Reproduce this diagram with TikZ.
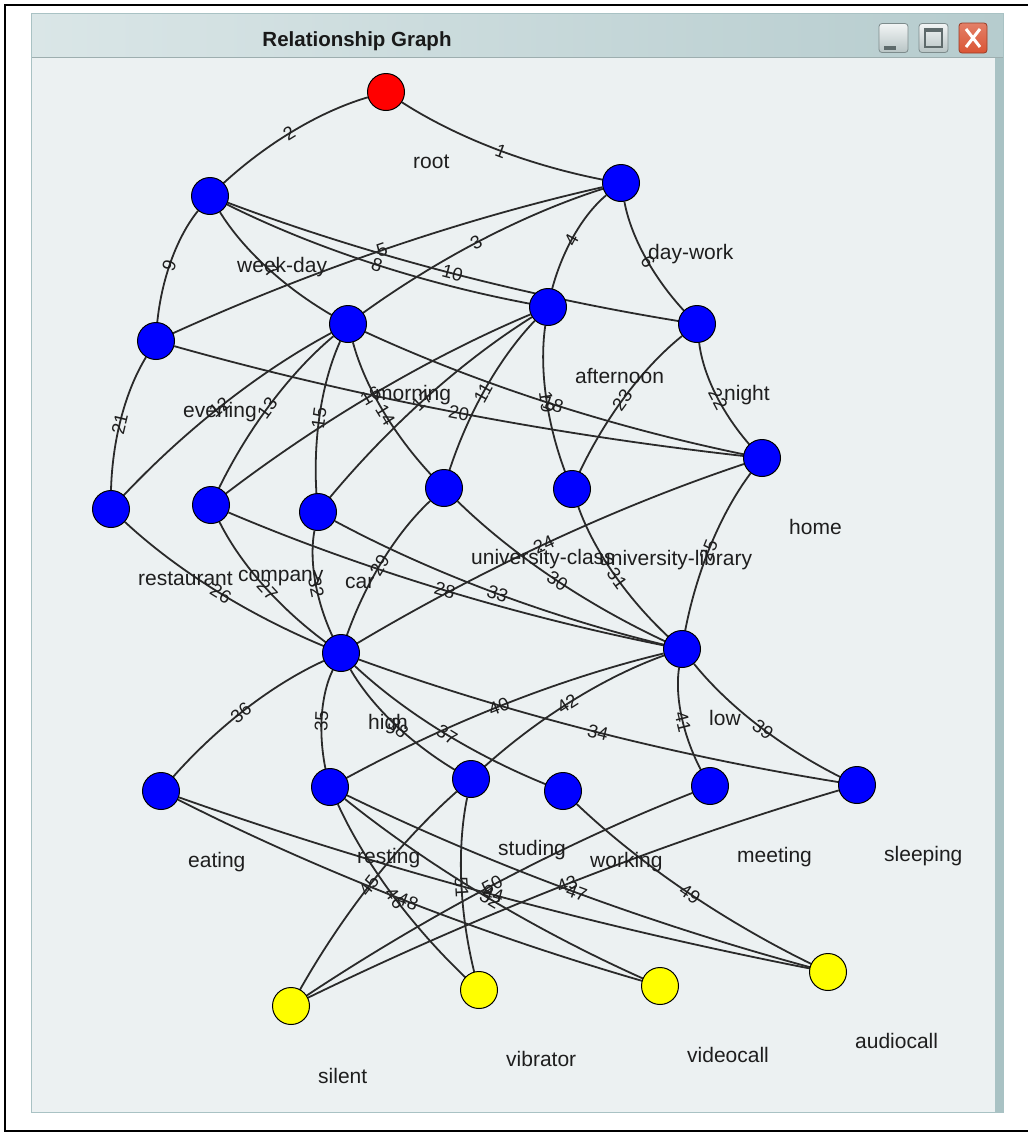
\documentclass[tikz,border=0pt]{standalone}
\usepackage{fontspec}
\setmainfont{Liberation Sans}
\usetikzlibrary{calc,backgrounds}
\definecolor{vblue}{HTML}{0000FF}
\definecolor{vred}{HTML}{FF0000}
\definecolor{vyel}{HTML}{FFFF00}
\definecolor{panelc}{HTML}{ECF1F2}
\definecolor{edgec}{HTML}{2A2A2A}
\definecolor{labc}{HTML}{1E1E1E}
\definecolor{tbl}{HTML}{DAE6E7}
\definecolor{tbr}{HTML}{B6CCCE}
\definecolor{framec}{HTML}{A9C2C4}
\definecolor{btntop}{HTML}{F2F5F5}
\definecolor{btnbot}{HTML}{B8C4C5}
\definecolor{btnedge}{HTML}{7D8B8C}
\definecolor{glyphc}{HTML}{5E6A6B}
\definecolor{closec}{HTML}{DA5535}
\tikzset{
  vtx/.style={circle, draw=black, line width=1pt, minimum size=37pt, inner sep=0pt, fill=vblue},
  vlab/.style={anchor=base west, inner sep=0pt, text=labc, font=\fontsize{21}{24}\selectfont},
  elab/.style={midway, sloped, inner sep=0pt, text=labc, font=\fontsize{18.5}{20}\selectfont},
  qc/.style={to path={let \p1=(\tikztostart), \p2=(\tikztotarget), \p3=($(\p1)!0.5!(\p2)!26pt!-90:(\p2)$) in .. controls ($(\p1)!0.6667!(\p3)$) and ($(\p2)!0.6667!(\p3)$) .. (\p2) \tikztonodes}},
  edg/.style={draw=edgec, line width=1.8pt},
  btn/.style={draw=btnedge, line width=0.8pt, rounded corners=3pt, top color=btntop, bottom color=btnbot, minimum width=29pt, minimum height=29pt, inner sep=0pt},
  btnx/.style={draw=closec!70!black, line width=0.8pt, rounded corners=3pt, top color=closec!75!white, bottom color=closec, minimum width=28pt, minimum height=30pt, inner sep=0pt},
}
\begin{document}
\begin{tikzpicture}[x=1pt,y=1pt]
\useasboundingbox (0,0) rectangle (1028,-1136);
% vertices
\node[vtx, fill=vred] (root) at (386,-92) {};
\node[vtx] (wd) at (210,-196) {};
\node[vtx] (dw) at (621,-183) {};
\node[vtx] (eve) at (156,-341) {};
\node[vtx] (mor) at (348,-324) {};
\node[vtx] (aft) at (548,-307) {};
\node[vtx] (nig) at (697,-324) {};
\node[vtx] (home) at (762,-458) {};
\node[vtx] (rest) at (111,-509) {};
\node[vtx] (comp) at (211,-505) {};
\node[vtx] (car) at (318,-512) {};
\node[vtx] (ucl) at (444,-488) {};
\node[vtx] (ulib) at (572,-489) {};
\node[vtx] (high) at (341,-653) {};
\node[vtx] (low) at (682,-649) {};
\node[vtx] (eat) at (161,-791) {};
\node[vtx] (rst) at (330,-787) {};
\node[vtx] (stu) at (471,-779) {};
\node[vtx] (wrk) at (563,-791) {};
\node[vtx] (mtg) at (710,-786) {};
\node[vtx] (slp) at (857,-785) {};
\node[vtx, fill=vyel] (sil) at (291,-1006) {};
\node[vtx, fill=vyel] (vib) at (479,-990) {};
\node[vtx, fill=vyel] (vid) at (660,-986) {};
\node[vtx, fill=vyel] (aud) at (828,-972) {};
% vertex labels
\node[vlab] (root-l) at (413,-168) {root};
\node[vlab] (wd-l) at (237,-272) {week-day};
\node[vlab] (dw-l) at (648,-259) {day-work};
\node[vlab] (eve-l) at (183,-417) {evening};
\node[vlab] (mor-l) at (375,-400) {morning};
\node[vlab] (aft-l) at (575,-383) {afternoon};
\node[vlab] (nig-l) at (724,-400) {night};
\node[vlab] (home-l) at (789,-534) {home};
\node[vlab] (rest-l) at (138,-585) {restaurant};
\node[vlab] (comp-l) at (238,-581) {company};
\node[vlab] (car-l) at (345,-588) {car};
\node[vlab] (ucl-l) at (471,-564) {university-class};
\node[vlab] (ulib-l) at (599,-565) {university-library};
\node[vlab] (high-l) at (368,-729) {high};
\node[vlab] (low-l) at (709,-725) {low};
\node[vlab] (eat-l) at (188,-867) {eating};
\node[vlab] (rst-l) at (357,-863) {resting};
\node[vlab] (stu-l) at (498,-855) {studing};
\node[vlab] (wrk-l) at (590,-867) {working};
\node[vlab] (mtg-l) at (737,-862) {meeting};
\node[vlab] (slp-l) at (884,-861) {sleeping};
\node[vlab] (sil-l) at (318,-1083) {silent};
\node[vlab] (vib-l) at (506,-1066) {vibrator};
\node[vlab] (vid-l) at (687,-1062) {videocall};
\node[vlab] (aud-l) at (855,-1048) {audiocall};
% title
\node[font=\bfseries\fontsize{20.5}{24}\selectfont, text=black!90] (title) at (357,-41) {Relationship Graph};
\node[btn] (bmin) at (893.5,-38) {};
\node[btn] (bmax) at (933.5,-38) {};
\node[btnx] (bcls) at (973,-38) {};
\fill[glyphc] (884,-46) rectangle (896,-49.5);
\draw[glyphc, line width=1.2pt] (925,-29) rectangle (942,-47);
\fill[glyphc] (925,-29) rectangle (942,-32);
\draw[white, line width=3pt] (966,-29) -- (980,-47) (980,-29) -- (966,-47);

\begin{scope}[on background layer]
\fill[tbl] (31,-13) rectangle (1003,-57);
\shade[left color=tbl, right color=tbr] (31,-13) rectangle (1003,-57);
\fill[panelc] (31,-57) rectangle (995,-1112);
\fill[framec] (995,-57) rectangle (1003,-1112);
\draw[framec!70!gray, line width=0.8pt] (31,-57) -- (1003,-57);
\draw[framec, line width=1pt] (31,-13) rectangle (1003,-1112);
\draw[black, line width=2pt] (1028,-5) -- (5,-5) -- (5,-1131) -- (1028,-1131);
% edges level 0-1
\draw[edg] (root) to[qc] node[elab]{1} (dw);
\draw[edg] (root) to[qc] node[elab]{2} (wd);
% level 1-2
\draw[edg] (dw) to[qc] node[elab]{3} (mor);
\draw[edg] (dw) to[qc] node[elab]{4} (aft);
\draw[edg] (dw) to[qc] node[elab]{5} (eve);
\draw[edg] (dw) to[qc] node[elab]{6} (nig);
\draw[edg] (wd) to[qc] node[elab]{7} (mor);
\draw[edg] (wd) to[qc] node[elab]{8} (aft);
\draw[edg] (wd) to[qc] node[elab]{9} (eve);
\draw[edg] (wd) to[qc] node[elab]{10} (nig);
% level 2-3
\draw[edg] (aft) to[qc] node[elab]{11} (ucl);
\draw[edg] (mor) to[qc] node[elab]{12} (rest);
\draw[edg] (mor) to[qc] node[elab]{13} (comp);
\draw[edg] (mor) to[qc] node[elab]{14} (ucl);
\draw[edg] (mor) to[qc] node[elab]{15} (car);
\draw[edg] (aft) to[qc] node[elab]{16} (comp);
\draw[edg] (aft) to[qc] node[elab]{17} (car);
\draw[edg] (mor) to[qc] node[elab]{18} (home);
\draw[edg] (aft) to[qc] node[elab]{19} (ulib);
\draw[edg] (eve) to[qc] node[elab]{20} (home);
\draw[edg] (eve) to[qc] node[elab]{21} (rest);
\draw[edg] (nig) to[qc] node[elab]{22} (home);
\draw[edg] (nig) to[qc] node[elab]{23} (ulib);
% level 3-4
\draw[edg] (home) to[qc] node[elab]{24} (high);
\draw[edg] (home) to[qc] node[elab]{25} (low);
\draw[edg] (rest) to[qc] node[elab]{26} (high);
\draw[edg] (comp) to[qc] node[elab]{27} (high);
\draw[edg] (comp) to[qc] node[elab]{28} (low);
\draw[edg] (ucl) to[qc] node[elab]{29} (high);
\draw[edg] (ucl) to[qc] node[elab]{30} (low);
\draw[edg] (ulib) to[qc] node[elab]{31} (low);
\draw[edg] (car) to[qc] node[elab]{32} (high);
\draw[edg] (car) to[qc] node[elab]{33} (low);
% level 4-5
\draw[edg] (high) to[qc] node[elab]{34} (slp);
\draw[edg] (high) to[qc] node[elab]{35} (rst);
\draw[edg] (high) to[qc] node[elab]{36} (eat);
\draw[edg] (high) to[qc] node[elab]{37} (wrk);
\draw[edg] (high) to[qc] node[elab]{38} (stu);
\draw[edg] (low) to[qc] node[elab]{39} (slp);
\draw[edg] (low) to[qc] node[elab]{40} (rst);
\draw[edg] (low) to[qc] node[elab]{41} (mtg);
\draw[edg] (low) to[qc] node[elab]{42} (stu);
% level 5-6
\draw[edg] (slp) to[qc] node[elab]{43} (sil);
\draw[edg] (eat) to[qc] node[elab]{44} (aud);
\draw[edg] (stu) to[qc] node[elab]{45} (sil);
\draw[edg] (rst) to[qc] node[elab]{46} (vib);
\draw[edg] (rst) to[qc] node[elab]{47} (aud);
\draw[edg] (eat) to[qc] node[elab]{48} (vid);
\draw[edg] (wrk) to[qc] node[elab]{49} (aud);
\draw[edg] (mtg) to[qc] node[elab]{50} (sil);
\draw[edg] (stu) to[qc] node[elab]{51} (vib);
\draw[edg] (rst) to[qc] node[elab]{52} (vid);
\end{scope}
\end{tikzpicture}
\end{document}
